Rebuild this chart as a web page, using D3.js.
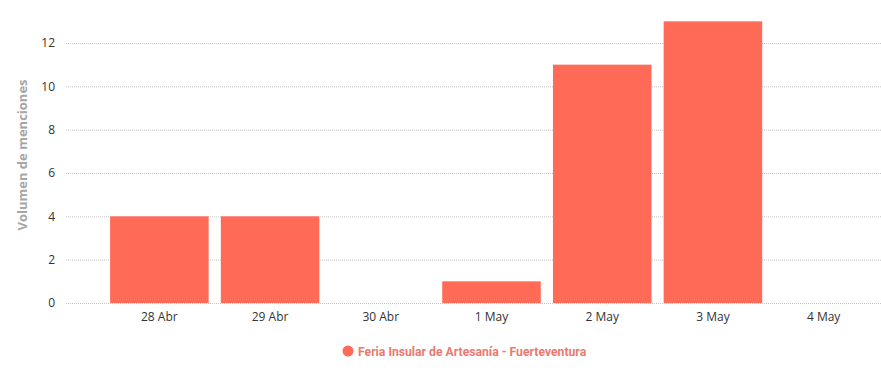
<!DOCTYPE html>
<html>
<head>
<meta charset="utf-8">
<script src="https://cdn.jsdelivr.net/npm/d3@7"></script>
<style>
  body { margin: 0; background: #fff; }
  .y-axis text, .x-axis text { font-family: "Open Sans", sans-serif; font-size: 12px; fill: #333; }
</style>
</head>
<body>
<div id="chart-area"></div>
<script>
// data
var days = ["28 Abr", "29 Abr", "30 Abr", "1 May", "2 May", "3 May", "4 May"];
var mentions = [4, 4, 0, 1, 11, 13, 0];
var yTicks = [0, 2, 4, 6, 8, 10, 12];
var seriesName = "Feria Insular de Artesanía - Fuerteventura";

var W = 881, H = 372;
var margin = {left: 66, right: 0, top: 0, bottom: 69};

var svg = d3.select("#chart-area").append("svg")
    .attr("width", W).attr("height", H);

// scales
var y = d3.scaleLinear()
    .domain([0, 12])
    .range([303, 43]);

var x = d3.scaleBand()
    .domain(days)
    .range([104, 879])
    .paddingInner(0.11)
    .paddingOuter(0.055);

// gridlines
svg.append("g").selectAll("line")
    .data(yTicks)
    .enter().append("line")
    .attr("x1", margin.left).attr("x2", W)
    .attr("y1", d => y(d) + 0.5).attr("y2", d => y(d) + 0.5)
    .attr("stroke", "#c4c4c4")
    .attr("stroke-width", 1)
    .attr("stroke-dasharray", "1,1");

// y axis labels
var leftAxis = d3.axisLeft(y).tickValues(yTicks).tickSize(0).tickPadding(0);
svg.append("g")
    .attr("class", "y-axis")
    .attr("transform", "translate(55,0)")
    .call(leftAxis)
    .call(g => g.select(".domain").remove());

// bars
svg.append("g").selectAll("rect")
    .data(mentions)
    .enter().append("rect")
    .attr("x", (d, i) => x(days[i]))
    .attr("width", x.bandwidth())
    .attr("y", d => y(d))
    .attr("height", d => y(0) - y(d))
    .attr("fill", "#ff6b57");

// x axis labels
var bottomAxis = d3.axisBottom(x).tickSize(0).tickPadding(9);
svg.append("g")
    .attr("class", "x-axis")
    .attr("transform", "translate(0,303)")
    .call(bottomAxis)
    .call(g => g.select(".domain").remove());

// y axis title
svg.append("text")
    .attr("transform", "rotate(-90)")
    .attr("x", -155)
    .attr("y", 27)
    .attr("text-anchor", "middle")
    .attr("font-family", "'Open Sans', sans-serif")
    .attr("font-size", "13px")
    .attr("font-weight", "bold")
    .attr("fill", "#a6a6a6")
    .text("Volumen de menciones");

// legend
var legend = svg.append("g").attr("transform", "translate(348,351)");
legend.append("circle")
    .attr("r", 5.5)
    .attr("fill", "#ff6b57");
legend.append("text")
    .attr("x", 10)
    .attr("y", 4.5)
    .attr("font-family", "Roboto, sans-serif")
    .attr("font-size", "12.2px")
    .attr("font-weight", "bold")
    .attr("fill", "#ea7a70")
    .text(seriesName);
</script>
</body>
</html>
